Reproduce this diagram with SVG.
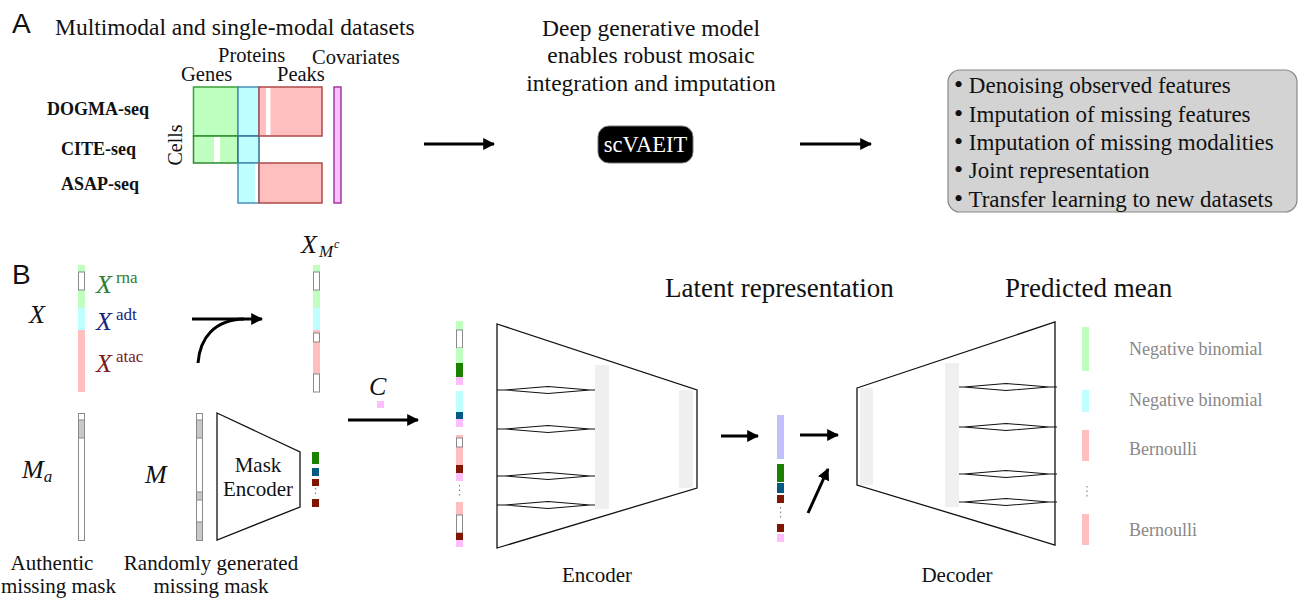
<svg xmlns="http://www.w3.org/2000/svg" width="1298" height="598" viewBox="0 0 1298 598">
<style>
text{font-family:"Liberation Serif","Times New Roman",serif;fill:#111}
.sans{font-family:"Liberation Sans",Arial,sans-serif}
.it{font-style:italic}
.bold{font-weight:bold}
.gray{fill:#888}
.c-g{fill:#bfffbf}.c-c{fill:#bfffff}.c-r{fill:#ffbfbf}.c-p{fill:#ffbfff}
.c-dg{fill:#1b7f00}.c-nv{fill:#005a82}.c-dr{fill:#801500}.c-lv{fill:#c0c0ff}.c-m{fill:#c8c8c8}
.wbox{fill:#fff;stroke:#8a8a8a;stroke-width:1}
.shape{fill:none;stroke:#111;stroke-width:1.3}
.lobe{fill:none;stroke:#111;stroke-width:1.1}
.gbar{fill:#f0f0f0}
.arr{fill:none;stroke:#000;stroke-width:3}
.dots{stroke:#888;stroke-width:1.2;stroke-dasharray:1.5 3}
</style>
<defs>
<marker id="ah" viewBox="0 0 10 10" refX="9" refY="5" markerWidth="4" markerHeight="4" orient="auto" markerUnits="strokeWidth">
<path d="M0,0 L10,5 L0,10 z" fill="#000"/>
</marker>
</defs>
<rect width="1298" height="598" fill="#fff"/>

<!-- Panel A -->
<g id="panelA-labels">
<text class="sans" x="12" y="33" font-size="28">A</text>
<text x="55" y="35" font-size="23.5">Multimodal and single-modal datasets</text>
</g>
<g id="datasets">
<text x="218" y="62" font-size="20.5">Proteins</text>
<text x="312" y="64" font-size="20.5">Covariates</text>
<text x="181" y="81" font-size="20.5">Genes</text>
<text x="277" y="81" font-size="20.5">Peaks</text>
<text class="bold" x="47" y="115" font-size="18">DOGMA-seq</text>
<text class="bold" x="61" y="155" font-size="18">CITE-seq</text>
<text class="bold" x="61" y="190" font-size="18">ASAP-seq</text>
<text transform="translate(182,145) rotate(-90)" text-anchor="middle" font-size="20">Cells</text>
<g stroke-width="1.5">
<rect x="193.5" y="87" width="44.5" height="49" class="c-g" stroke="#3aa03a"/>
<rect x="193.5" y="136" width="44.5" height="27" class="c-g" stroke="#2f8a2f"/>
<rect x="238" y="87" width="21" height="49" class="c-c" stroke="#4a90b8"/>
<rect x="238" y="136" width="21" height="27" class="c-c" stroke="#2f6f95"/>
<rect x="238" y="163" width="21" height="40" class="c-c" stroke="#4a90b8"/>
<rect x="259" y="87" width="63" height="49" class="c-r" stroke="#b04a4a"/>
<rect x="259" y="163" width="63" height="40" class="c-r" stroke="#b04a4a"/>
<rect x="334" y="87" width="7" height="116" class="c-p" stroke="#a03aa0"/>
</g>
<rect x="266" y="88" width="4.5" height="47" fill="#fff"/>
<rect x="214" y="137" width="6" height="25" fill="#fff"/>
<rect x="255" y="164" width="3" height="38" fill="#fff"/>
</g>
<g id="model">
<text x="651" y="36" font-size="23.5" text-anchor="middle">Deep generative model</text>
<text x="651" y="63" font-size="23.5" text-anchor="middle">enables robust mosaic</text>
<text x="651" y="91" font-size="23.5" text-anchor="middle">integration and imputation</text>
<rect x="598" y="126" width="95" height="37" rx="11" fill="#000" stroke="#777" stroke-width="1"/>
<text x="645.5" y="152" font-size="22.5" text-anchor="middle" style="fill:#fff">scVAEIT</text>
</g>
<g id="applications">
<rect x="948" y="70" width="349" height="142" rx="12" fill="#d3d3d3" stroke="#888" stroke-width="1.2"/>
<g font-size="23">
<text x="954" y="93"><tspan font-size="26">•</tspan> Denoising observed features</text>
<text x="954" y="121.5"><tspan font-size="26">•</tspan> Imputation of missing features</text>
<text x="954" y="150"><tspan font-size="26">•</tspan> Imputation of missing modalities</text>
<text x="954" y="178"><tspan font-size="26">•</tspan> Joint representation</text>
<text x="954" y="206.5"><tspan font-size="26">•</tspan> Transfer learning to new datasets</text>
</g>
</g>

<!-- Panel B -->
<g id="panelB-label"><text class="sans" x="12" y="284" font-size="28">B</text></g>
<g id="X-vector">
<text class="it" x="29" y="323" font-size="26">X</text>
<rect x="78" y="265" width="7" height="43" class="c-g"/>
<rect x="78" y="308" width="7" height="22" class="c-c"/>
<rect x="78" y="330" width="7" height="62" class="c-r"/>
<rect x="78.5" y="272" width="6" height="18" class="wbox"/>
<text x="96" y="293" font-size="26" style="fill:#2e7d32"><tspan class="it">X</tspan><tspan font-size="17" dx="4" dy="-10">rna</tspan></text>
<text x="96" y="330" font-size="26" style="fill:#1a237e"><tspan class="it">X</tspan><tspan font-size="17" dx="4" dy="-10">adt</tspan></text>
<text x="96" y="372" font-size="26" style="fill:#7b1a1a"><tspan class="it">X</tspan><tspan font-size="17" dx="4" dy="-10">atac</tspan></text>
</g>
<g id="XMc-vector">
<text x="301" y="253" font-size="26"><tspan class="it">X</tspan><tspan class="it" font-size="17" dx="2" dy="4">M</tspan><tspan class="it" font-size="12" dx="1" dy="-9">c</tspan></text>
<rect x="313" y="265" width="7" height="43" class="c-g"/>
<rect x="313" y="308" width="7" height="22" class="c-c"/>
<rect x="313" y="330" width="7" height="62" class="c-r"/>
<rect x="313.5" y="272" width="6" height="18" class="wbox"/>
<rect x="313.5" y="333" width="6" height="9" class="wbox"/>
<rect x="313.5" y="374" width="6" height="18" class="wbox"/>
</g>
<g id="C-covariate">
<text class="it" x="369" y="395" font-size="26">C</text>
<rect x="377" y="401" width="7" height="7" class="c-p"/>
</g>
<g id="Ma-vector">
<text class="it" x="22" y="478" font-size="26">M<tspan font-size="17" dy="4">a</tspan></text>
<rect x="78.5" y="413.5" width="6" height="127" class="wbox"/>
<rect x="78.5" y="420" width="6" height="18" class="c-m" stroke="#8a8a8a" stroke-width="1"/>
<text x="52" y="570" font-size="21" text-anchor="middle">Authentic</text>
<text x="1" y="593" font-size="21">missing mask</text>
</g>
<g id="M-vector">
<text class="it" x="145" y="483" font-size="26">M</text>
<rect x="196.5" y="413.5" width="6" height="127" class="wbox"/>
<rect x="196.5" y="420" width="6" height="18" class="c-m" stroke="#8a8a8a" stroke-width="1"/>
<rect x="196.5" y="492" width="6" height="8" class="c-m" stroke="#8a8a8a" stroke-width="1"/>
<rect x="196.5" y="522" width="6" height="18.5" class="c-m" stroke="#8a8a8a" stroke-width="1"/>
<text x="211" y="570" font-size="21" text-anchor="middle">Randomly generated</text>
<text x="211" y="593" font-size="21" text-anchor="middle">missing mask</text>
</g>
<g id="mask-encoder">
<path d="M217,413 L300,452 L300,507 L217,540 Z" class="shape"/>
<text x="258" y="472" font-size="21" text-anchor="middle">Mask</text>
<text x="258" y="496" font-size="21" text-anchor="middle">Encoder</text>
<rect x="312" y="452" width="7" height="12" class="c-dg"/>
<rect x="312" y="468" width="7" height="8" class="c-nv"/>
<rect x="312" y="479" width="7" height="7" class="c-dr"/>
<line x1="315.5" y1="488" x2="315.5" y2="496" class="dots"/>
<rect x="312" y="499" width="7" height="8" class="c-dr"/>
</g>
<g id="encoder-input">
<rect x="456" y="321" width="7" height="9" class="c-g"/>
<rect x="456.5" y="330" width="6" height="18" class="wbox"/>
<rect x="456" y="348" width="7" height="15" class="c-g"/>
<rect x="456" y="363" width="7" height="14" class="c-dg"/>
<rect x="456" y="377" width="7" height="8" class="c-p"/>
<rect x="456" y="391" width="7" height="21" class="c-c"/>
<rect x="456" y="412" width="7" height="7" class="c-nv"/>
<rect x="456" y="419" width="7" height="8" class="c-p"/>
<rect x="456" y="435" width="7" height="30" class="c-r"/>
<rect x="456.5" y="438" width="6" height="9" class="wbox"/>
<rect x="456" y="465" width="7" height="8" class="c-dr"/>
<rect x="456" y="473" width="7" height="8" class="c-p"/>
<line x1="459.5" y1="485" x2="459.5" y2="497" class="dots"/>
<rect x="456" y="502" width="7" height="31" class="c-r"/>
<rect x="456.5" y="515" width="6" height="18" class="wbox"/>
<rect x="456" y="533" width="7" height="7" class="c-dr"/>
<rect x="456" y="540" width="7" height="7" class="c-p"/>
</g>
<g id="encoder">
<rect x="595" y="365" width="14" height="144" class="gbar"/>
<rect x="679" y="390" width="14" height="98" class="gbar"/>
<path d="M497,324 L697,390 L697,488 L497,548 Z" class="shape"/>
<g class="lobe">
<path d="M497,390 H505 L548,386.5 L590,390 H595 M505,390 L548,393.5 L590,390" stroke-width="1.2"/>
<path d="M497,429 H505 L548,425.5 L590,429 H595 M505,429 L548,432.5 L590,429"/>
<path d="M497,476 H505 L548,472.5 L590,476 H595 M505,476 L548,479.5 L590,476"/>
<path d="M497,505 H505 L548,501.5 L590,505 H595 M505,505 L548,508.5 L590,505" stroke-width="1.2"/>
</g>
<text x="597" y="582" font-size="21" text-anchor="middle">Encoder</text>
</g>
<g id="latent">
<text x="665" y="297" font-size="27">Latent representation</text>
<rect x="777" y="415" width="7" height="44" class="c-lv"/>
<rect x="777" y="464" width="7" height="18" class="c-dg"/>
<rect x="777" y="483" width="7" height="10" class="c-nv"/>
<rect x="777" y="495" width="7" height="8" class="c-dr"/>
<line x1="780.5" y1="507" x2="780.5" y2="520" class="dots"/>
<rect x="777" y="524" width="7" height="8" class="c-dr"/>
<rect x="777" y="534" width="7" height="8" class="c-p"/>
</g>
<g id="decoder">
<rect x="860" y="388" width="13" height="97" class="gbar"/>
<rect x="945" y="363" width="14" height="144" class="gbar"/>
<path d="M857,388 L1055,322 L1055,545 L857,485 Z" class="shape"/>
<g class="lobe">
<path d="M959,387 H964 L1006,383.5 L1049,387 H1057 M964,387 L1006,390.5 L1049,387"/>
<path d="M959,427 H964 L1006,423.5 L1049,427 H1057 M964,427 L1006,430.5 L1049,427"/>
<path d="M959,474 H964 L1006,470.5 L1049,474 H1057 M964,474 L1006,477.5 L1049,474"/>
<path d="M959,502 H964 L1006,498.5 L1049,502 H1057 M964,502 L1006,505.5 L1049,502"/>
</g>
<text x="957" y="582" font-size="21" text-anchor="middle">Decoder</text>
</g>
<g id="predicted-mean">
<text x="1005" y="297" font-size="27">Predicted mean</text>
<rect x="1082" y="327" width="7" height="44" class="c-g"/>
<rect x="1082" y="390" width="7" height="22" class="c-c"/>
<rect x="1082" y="430" width="7" height="31" class="c-r"/>
<line x1="1087" y1="486" x2="1087" y2="498" class="dots"/>
<rect x="1082" y="514" width="7" height="31" class="c-r"/>
<g font-size="18">
<text class="gray" x="1129" y="355">Negative binomial</text>
<text class="gray" x="1129" y="406">Negative binomial</text>
<text class="gray" x="1129" y="455">Bernoulli</text>
<text class="gray" x="1129" y="536">Bernoulli</text>
</g>
</g>

<g id="connectors">
<line x1="424" y1="144" x2="494" y2="144" class="arr" marker-end="url(#ah)"/>
<line x1="800" y1="144" x2="871" y2="144" class="arr" marker-end="url(#ah)"/>
<line x1="192" y1="319" x2="262" y2="319" class="arr" marker-end="url(#ah)"/>
<path d="M198,363 C200,338 214,320 244,319" class="arr"/>
<line x1="348" y1="420" x2="418" y2="420" class="arr" marker-end="url(#ah)"/>
<line x1="721" y1="436" x2="758" y2="436" class="arr" marker-end="url(#ah)"/>
<line x1="800" y1="435" x2="838" y2="435" class="arr" marker-end="url(#ah)"/>
<line x1="808" y1="513" x2="828" y2="469" class="arr" marker-end="url(#ah)"/>
</g>
</svg>
